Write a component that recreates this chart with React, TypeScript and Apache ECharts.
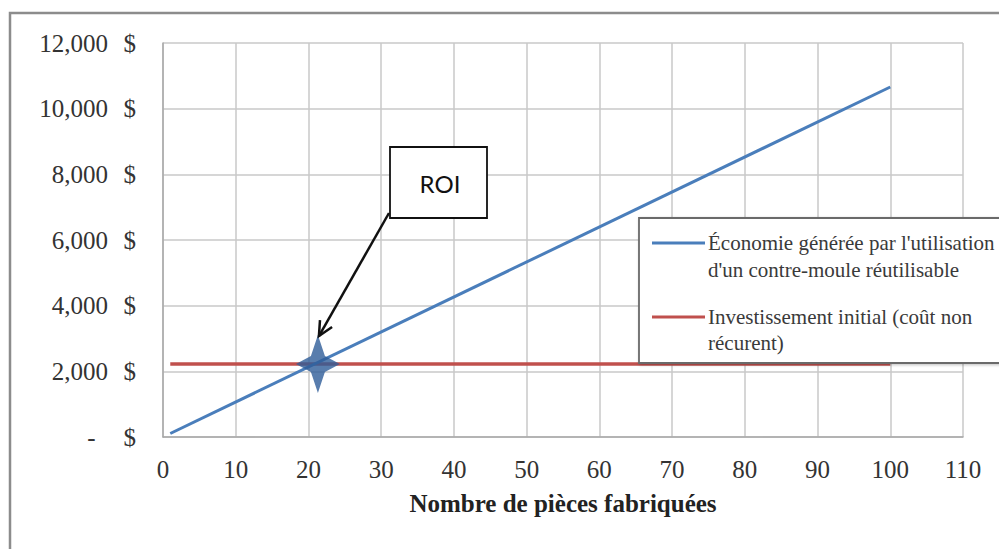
import React, { useEffect, useRef } from "react";
import * as echarts from "echarts";

// Nombre de pièces (début et fin des deux courbes)
const pieces = [1, 100];
// Économie générée par l'utilisation d'un contre-moule réutilisable ($)
const economie = [107, 10660];
// Investissement initial, coût non récurrent ($)
const investissement = [2222, 2222];
// Point de retour sur investissement
const roiPoint = [21.3, 2222];

const xTicks = { min: 0, max: 110, interval: 10 };
const yTicks = { min: 0, max: 12000, interval: 2000 };

const serif = "'Liberation Serif', 'Times New Roman', serif";
const textColor = "#333";

const formatMoney = (v: number) =>
  String(Math.round(v)).replace(/\B(?=(\d{3})+(?!\d))/g, ",");

export default function App() {
  const ref = useRef<HTMLDivElement>(null);

  useEffect(() => {
    if (!ref.current) return;
    const chart = echarts.init(ref.current, undefined, { renderer: "svg" });

    chart.setOption({
      animation: false,
      backgroundColor: "#fff",
      grid: { left: 163, top: 43, right: 36, bottom: 112 },
      xAxis: {
        type: "value",
        ...xTicks,
        name: "Nombre de pièces fabriquées",
        nameLocation: "middle",
        nameGap: 54,
        nameTextStyle: {
          fontFamily: serif,
          fontSize: 25,
          fontWeight: "bold",
          color: "#222",
        },
        axisLine: { show: true, lineStyle: { color: "#a8a8a8", width: 1.5 } },
        axisTick: { show: false },
        splitLine: { show: true, lineStyle: { color: "#c9c9c9", width: 1.5 } },
        axisLabel: { fontFamily: serif, fontSize: 25, color: textColor, margin: 20 },
      },
      yAxis: {
        type: "value",
        ...yTicks,
        axisLine: { show: true, lineStyle: { color: "#a8a8a8", width: 1.5 } },
        axisTick: { show: false },
        splitLine: { show: true, lineStyle: { color: "#c9c9c9", width: 1.5 } },
        axisLabel: {
          margin: 27,
          formatter: (v: number) =>
            v === 0 ? "{n|-\u00a0\u00a0}{d|$}" : `{n|${formatMoney(v)}}{d|$}`,
          rich: {
            n: { width: 72, align: "right", fontFamily: serif, fontSize: 25, color: textColor },
            d: { width: 28, align: "right", fontFamily: serif, fontSize: 25, color: textColor },
          },
        },
      },
      series: [
        {
          name: "Économie générée par l'utilisation d'un contre-moule réutilisable",
          type: "line",
          data: pieces.map((p, i) => [p, economie[i]]),
          showSymbol: false,
          symbol: "none",
          lineStyle: { color: "#4a7ebb", width: 3 },
          z: 3,
        },
        {
          name: "Investissement initial (coût non récurent)",
          type: "line",
          data: pieces.map((p, i) => [p, investissement[i]]),
          showSymbol: false,
          symbol: "none",
          lineStyle: { color: "#c0504d", width: 3.5 },
          z: 2,
        },
        {
          name: "ROI",
          type: "scatter",
          data: [roiPoint],
          symbol:
            "path://M0,-29 L7,-8 L22,0 L7,8 L0,29 L-7,8 L-22,0 L-7,-8 Z",
          symbolSize: [44, 58],
          itemStyle: { color: "#2e5c98" },
          z: 4,
        },
      ],
    });

    // Annotation ROI : encadré + flèche vers le point de croisement
    const tip = chart.convertToPixel({ gridIndex: 0 }, roiPoint) as number[];
    const tipX = tip[0] + 1;
    const tipY = tip[1] - 28;
    const tailX = 389;
    const tailY = 213;
    const ang = Math.atan2(tipY - tailY, tipX - tailX);
    const headLen = 16;
    const spread = 0.45;
    const h1 = [tipX - headLen * Math.cos(ang - spread), tipY - headLen * Math.sin(ang - spread)];
    const h2 = [tipX - headLen * Math.cos(ang + spread), tipY - headLen * Math.sin(ang + spread)];

    const legendFont = { fontFamily: serif, fontSize: 21, fill: "#3a3a3a" };

    chart.setOption({
      graphic: [
        // cadre extérieur
        {
          type: "polyline",
          shape: { points: [[10, 549], [10, 13], [999, 13]] },
          style: { stroke: "#8c8c8c", lineWidth: 2.5, fill: "none" },
          z: 10,
        },
        {
          type: "line",
          shape: { x1: tailX, y1: tailY, x2: tipX, y2: tipY },
          style: { stroke: "#111", lineWidth: 2.5 },
          z: 20,
        },
        {
          type: "polyline",
          shape: { points: [h1, [tipX, tipY], h2] },
          style: { stroke: "#111", lineWidth: 2.5, fill: "none" },
          z: 20,
        },
        {
          type: "rect",
          shape: { x: 390, y: 147, width: 97, height: 71 },
          style: { fill: "#fff", stroke: "#111", lineWidth: 1.8 },
          z: 21,
        },
        {
          type: "text",
          x: 440,
          y: 183,
          style: {
            text: "ROI",
            fontFamily: "Lato, 'Open Sans', sans-serif",
            fontSize: 24,
            fill: "#111",
            align: "center",
            verticalAlign: "middle",
          },
          z: 22,
        },
        // légende
        {
          type: "rect",
          shape: { x: 639, y: 218, width: 400, height: 145 },
          style: {
            fill: "#fff",
            stroke: "#6b6b6b",
            lineWidth: 1.8,
            shadowColor: "rgba(0,0,0,0.25)",
            shadowBlur: 3,
            shadowOffsetX: 1,
            shadowOffsetY: 1,
          },
          z: 30,
        },
        {
          type: "line",
          shape: { x1: 652, y1: 243, x2: 705, y2: 243 },
          style: { stroke: "#4a7ebb", lineWidth: 3 },
          z: 31,
        },
        {
          type: "text",
          x: 708,
          y: 243,
          style: { ...legendFont, text: "Économie générée par l'utilisation", verticalAlign: "middle" },
          z: 31,
        },
        {
          type: "text",
          x: 708,
          y: 270,
          style: { ...legendFont, text: "d'un contre-moule réutilisable", verticalAlign: "middle" },
          z: 31,
        },
        {
          type: "line",
          shape: { x1: 652, y1: 317, x2: 705, y2: 317 },
          style: { stroke: "#c0504d", lineWidth: 3 },
          z: 31,
        },
        {
          type: "text",
          x: 708,
          y: 317,
          style: { ...legendFont, text: "Investissement initial (coût non", verticalAlign: "middle" },
          z: 31,
        },
        {
          type: "text",
          x: 708,
          y: 343,
          style: { ...legendFont, text: "récurent)", verticalAlign: "middle" },
          z: 31,
        },
      ],
    });

    return () => chart.dispose();
  }, []);

  return (
    <div
      ref={ref}
      style={{ position: "absolute", left: 0, top: 0, width: 999, height: 549, background: "#fff" }}
    />
  );
}
